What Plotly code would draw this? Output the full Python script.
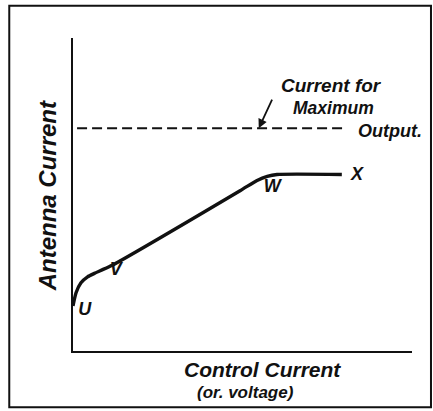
import plotly.graph_objects as go

# Characteristic curve: antenna current vs. control current
control = [0.0, 0.09, 0.235, 0.43, 0.63, 1.12, 4.94, 5.43, 5.73, 6.02, 7.93]
antenna = [1.44, 1.86, 2.18, 2.37, 2.48, 2.72, 5.13, 5.45, 5.58, 5.64, 5.64]

# Level of current for maximum output
max_output_level = 7.12
max_output_span = [0.12, 8.03]

# Lettered points along the curve
point_names = ["U", "V", "W", "X"]
point_x = [0.35, 1.26, 5.88, 8.38]
point_y = [1.28, 2.56, 5.22, 5.61]

INK = "#111111"
FONT = "Liberation Sans"

fig = go.Figure()

fig.add_trace(go.Scatter(
    x=max_output_span, y=[max_output_level] * 2, mode="lines",
    line=dict(color=INK, width=2, dash="10px,5px"), hoverinfo="skip",
))
fig.add_trace(go.Scatter(
    x=control, y=antenna, mode="lines",
    line=dict(color=INK, width=3.4, shape="spline", smoothing=0.6),
    hoverinfo="skip",
))
fig.add_trace(go.Scatter(
    x=point_x, y=point_y, mode="text", text=point_names,
    textfont=dict(family=FONT, size=18, color=INK, style="italic",
                  weight="bold"),
    cliponaxis=False, hoverinfo="skip",
))

annotations = [
    dict(text="Antenna Current", x=-0.074, y=0.497, textangle=-90,
         font=dict(size=24)),
    dict(text="Control Current", x=0.559, y=-0.058, font=dict(size=21)),
    dict(text="(or. voltage)", x=0.509, y=-0.132, font=dict(size=17)),
    dict(text="Current for", x=0.762, y=0.849, font=dict(size=19)),
    dict(text="Maximum", x=0.768, y=0.776, font=dict(size=17.5)),
    dict(text="Output.", x=0.935, y=0.702, font=dict(size=18)),
]
for a in annotations:
    a.update(xref="paper", yref="paper", showarrow=False,
             xanchor="center", yanchor="middle")
    a["font"].update(family=FONT, color=INK, style="italic", weight="bold")
fig.update_layout(annotations=annotations)

# Pointer from the note down to the dashed level
fig.add_annotation(
    x=5.48, y=max_output_level, xref="x", yref="y", text="",
    showarrow=True, ax=14, ay=-30, arrowhead=2, arrowsize=1,
    arrowwidth=1.8, arrowcolor=INK,
)

# Outer frame around the whole figure
fig.add_shape(type="rect", xref="paper", yref="paper",
              x0=-0.188, x1=1.056, y0=-0.18, y1=1.103,
              line=dict(color=INK, width=2))

axis_style = dict(showline=True, linecolor=INK, linewidth=2, showgrid=False,
                  zeroline=False, ticks="", showticklabels=False,
                  fixedrange=True)
fig.update_xaxes(range=[0, 10], **axis_style)
fig.update_yaxes(range=[0, 10], **axis_style)

fig.update_layout(
    width=433, height=411, showlegend=False,
    margin=dict(l=73, r=21, t=38, b=60),
    paper_bgcolor="white", plot_bgcolor="white",
)

fig.write_html("out.html")
